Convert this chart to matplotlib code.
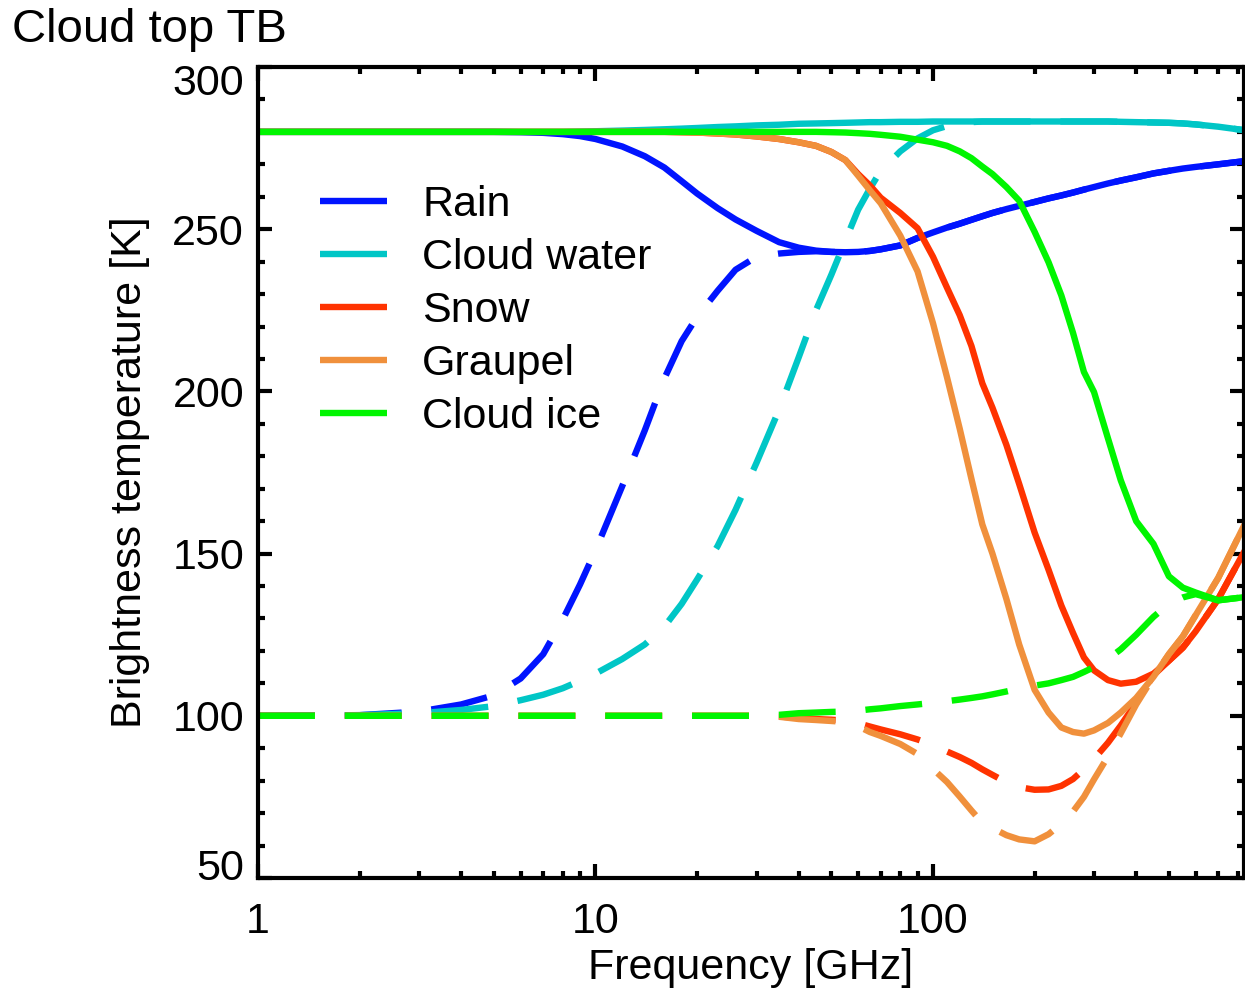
import matplotlib
matplotlib.use("Agg")
import matplotlib.pyplot as plt
from matplotlib.transforms import ScaledTranslation
import numpy as np

plt.rcParams['font.family'] = ['Liberation Sans', 'DejaVu Sans']
plt.rcParams['lines.scale_dashes'] = False

# Frequency grid [GHz]
freq = [1, 2, 3, 4, 5, 6, 7, 8, 9, 10, 12, 14, 16, 18, 20, 23, 26, 30, 35, 40,
        45, 50, 55, 60, 65, 70, 80, 90, 100, 110, 120, 130, 140, 150, 165, 180,
        200, 220, 240, 260, 280, 300, 330, 360, 400, 450, 500, 550, 600, 700, 840]

# Cloud top TB [K], solid = warm background, dashed = cold background
rain_solid = [280, 280, 280, 280, 280, 279.9, 279.7, 279.3, 278.7, 277.8, 275.5, 272.5, 269, 264.8, 261, 256.5, 253, 249.5, 246, 244.3,
              243.4, 243, 242.9, 243, 243.3, 243.8, 245, 247.3, 249, 250.5, 251.7, 252.9, 254, 255, 256.2, 257.2,
              258.4, 259.5, 260.4, 261.3, 262.2, 263, 264.1, 265, 266, 267.2, 268, 268.7, 269.2, 270, 271]
rain_dashed = [100, 100.2, 101.3, 103.5, 106.3, 111.5, 119, 129.7, 140.5, 151, 170.8, 188, 204, 215.5, 223, 231, 237.5, 241.5, 242.5, 243,
               243.2, 243, 242.9, 243, 243.3, 243.8, 245, 247.3, 249, 250.5, 251.7, 252.9, 254, 255, 256.2, 257.2,
               258.4, 259.5, 260.4, 261.3, 262.2, 263, 264.1, 265, 266, 267.2, 268, 268.7, 269.2, 270, 271]
water_solid = [280, 280, 280, 280, 280, 280, 280, 280, 280.1, 280.2, 280.4, 280.6, 280.8, 281, 281.2, 281.5, 281.7, 282, 282.2, 282.5,
               282.6, 282.7, 282.8, 282.9, 283, 283, 283.1, 283.1, 283.2, 283.2, 283.2, 283.2, 283.2, 283.2, 283.2, 283.2,
               283.2, 283.2, 283.2, 283.2, 283.2, 283.2, 283.2, 283.1, 283, 282.9, 282.8, 282.6, 282.3, 281.6, 280.5]
water_dashed = [100, 100.2, 100.8, 101.8, 103, 104.8, 106.5, 108.5, 110.8, 113, 117.5, 122, 127.5, 134.5, 142, 152.3, 163.5, 178, 194.4, 210.5,
                225, 236, 246.5, 256, 262.5, 268, 274, 278, 280.5, 281.8, 282.3, 283, 283.2, 283.2, 283.2, 283.2,
                283.2, 283.2, 283.2, 283.2, 283.2, 283.2, 283.2, 283.1, 283, 282.9, 282.8, 282.6, 282.3, 281.6, 280.5]
snow_solid = [280, 280, 280, 280, 280, 280, 280, 280, 280, 280, 280, 280, 280, 279.9, 279.8, 279.5, 279.2, 278.6, 277.8, 276.8,
              275.7, 273.8, 271.3, 267, 263.5, 259.7, 255, 250.3, 241.5, 232, 223.5, 214, 202.5, 195, 183.5, 171.5,
              156.5, 145, 134, 125.5, 118, 114, 111, 109.9, 110.5, 113, 117, 121, 126, 136, 151]
snow_dashed = [100, 100, 100, 100, 100, 100, 100, 100, 100, 100, 100, 100, 100, 100, 100, 100, 100, 100, 99.8, 99.3,
               99, 98.8, 98.5, 97.7, 96.7, 95.8, 94.3, 92.7, 91, 89, 87.3, 85.5, 83.5, 81.8, 79.5, 78,
               77.2, 77.3, 78.4, 80.5, 83.5, 86.7, 91.7, 97, 104, 112.5, 117, 121, 126, 136, 151]
graupel_solid = [280, 280, 280, 280, 280, 280, 280, 280, 280, 280, 280, 280, 280, 279.9, 279.8, 279.5, 279.2, 278.6, 277.8, 276.8,
                 275.7, 273.8, 271.3, 266.5, 262, 258, 248, 237, 221, 204.4, 188.5, 173, 159, 150, 136, 122,
                 108, 101, 96.4, 95, 94.5, 95.5, 97.8, 101, 105.5, 112, 119, 124.5, 131, 142.5, 159.2]
graupel_dashed = [100, 100, 100, 100, 100, 100, 100, 100, 100, 100, 100, 100, 100, 100, 100, 100, 100, 100, 99.7, 99,
                  98.7, 98.4, 98.1, 96.8, 95, 93.8, 91.3, 88.2, 83.6, 79.6, 75.1, 70.8, 67, 65.4, 63.2, 61.9,
                  61.3, 63.5, 66.7, 70.5, 75, 80.4, 87.5, 94.6, 103.5, 112, 119, 124.5, 131, 142.5, 159.2]
ice_solid = [280, 280, 280, 280, 280, 280, 280, 280, 280, 280, 280, 280, 280, 280, 280, 280, 280, 280, 280, 280,
             280, 279.9, 279.8, 279.6, 279.4, 279.1, 278.5, 277.6, 276.8, 275.7, 274, 271.9, 269.3, 267, 263, 258.8,
             249.2, 239.8, 229.6, 218, 206, 199.8, 185.5, 172.6, 160, 153, 143, 139.5, 138, 135.6, 136.6]
ice_dashed = [100, 100, 100, 100, 100, 100, 100, 100, 100, 100, 100, 100, 100, 100, 100, 100, 100, 100, 100.3, 100.8,
              101, 101.2, 101.3, 101.6, 102, 102.3, 103, 103.5, 104, 104.5, 105, 105.5, 106, 106.6, 107.5, 108.4,
              109.3, 110, 111, 112, 113.5, 115, 117.5, 120.5, 125, 130.5, 134.5, 136.5, 137.5, 135.6, 136.6]

labels = ["Rain", "Cloud water", "Snow", "Graupel", "Cloud ice"]
colors = ["#0014FF", "#00C6C6", "#FF3300", "#F0903C", "#00F500"]
solids = [rain_solid, water_solid, snow_solid, graupel_solid, ice_solid]
dashes = [rain_dashed, water_dashed, snow_dashed, graupel_dashed, ice_dashed]

W, H = 1245, 990
fig = plt.figure(figsize=(W / 100, H / 100), dpi=100)
ax = fig.add_axes([258 / W, 1 - 878 / H, (1244 - 258) / W, (878 - 67) / H])

lw = 4.6
for lab, col, s, d in zip(labels, colors, solids, dashes):
    ax.plot(freq, s, color=col, lw=lw, label=lab, solid_capstyle='butt')
    ax.plot(freq, d, color=col, lw=lw, dashes=(41, 21.5), dash_capstyle='butt')

ax.set_xscale('log')
ax.set_xlim(1, 10 ** ((1244 - 258) / 337.5))
ax.set_ylim(50, 300)
ax.set_yticks([50, 100, 150, 200, 250, 300])
ax.set_yticks(np.arange(50, 301, 10), minor=True)
ax.set_xticks([1, 10, 100])
ax.set_xticklabels(["1", "10", "100"])
ax.xaxis.set_minor_locator(matplotlib.ticker.LogLocator(subs=np.arange(2, 10)))
ax.xaxis.set_minor_formatter(matplotlib.ticker.NullFormatter())

ax.tick_params(which='both', direction='in', top=True, right=True, width=3, labelsize=31)
ax.tick_params(which='major', length=10)
ax.tick_params(which='minor', length=5)
ax.tick_params(axis='x', which='major', pad=17.5)
ax.tick_params(axis='y', which='major', pad=10)
for sp in ax.spines.values():
    sp.set_linewidth(3)

# IDL-style: end labels on the y axis pulled inward
yticks = ax.yaxis.get_major_ticks()
yticks[0].label1.set_transform(yticks[0].label1.get_transform() +
                               ScaledTranslation(0, 14 / 100, fig.dpi_scale_trans))
yticks[-1].label1.set_transform(yticks[-1].label1.get_transform() +
                                ScaledTranslation(0, -12 / 100, fig.dpi_scale_trans))

ax.set_xlabel("Frequency [GHz]", fontsize=31, labelpad=4)
ax.set_ylabel("Brightness temperature [K]", fontsize=31, labelpad=16)

fig.text(12 / W, 1 - 30 / H, "Cloud top TB", fontsize=34, ha='left', va='center')

leg = ax.legend(loc='upper left', bbox_to_anchor=((320 - 258) / 986, (878 - 185) / 811),
                frameon=False, fontsize=31, handlelength=1.56, handletextpad=0.81,
                labelspacing=0.3, borderpad=0, borderaxespad=0)

fig.savefig("out.png", dpi=100)
